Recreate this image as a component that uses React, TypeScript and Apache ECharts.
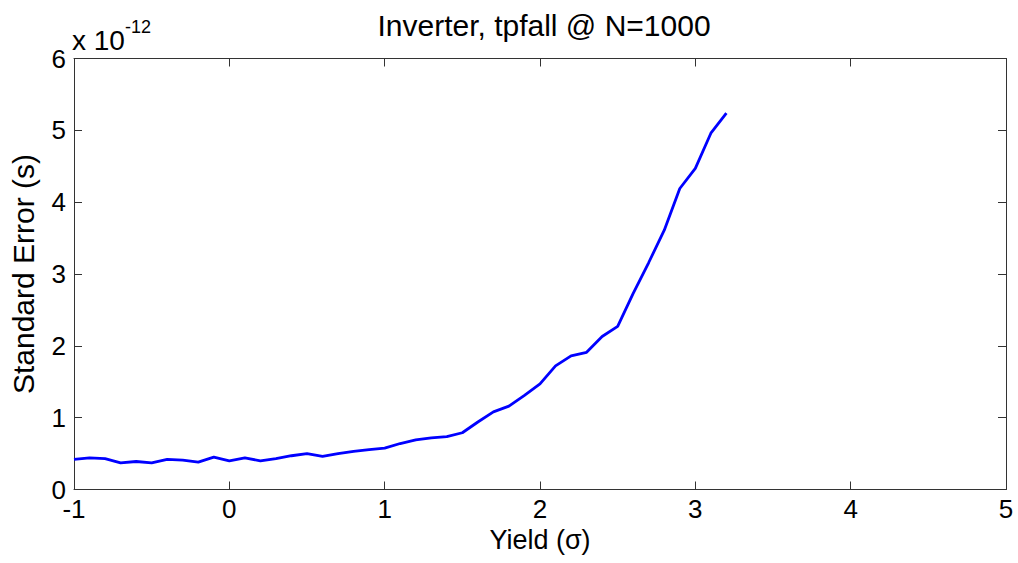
import React, { useEffect, useRef } from "react";
import * as echarts from "echarts";

// Yield in sigma units
const yieldSigma: number[] = [
  -1.0, -0.9, -0.8, -0.7, -0.6, -0.5, -0.4, -0.3, -0.2, -0.1,
  0.0, 0.1, 0.2, 0.3, 0.4, 0.5, 0.6, 0.7, 0.8, 0.9,
  1.0, 1.1, 1.2, 1.3, 1.4, 1.5, 1.6, 1.7, 1.8, 1.9,
  2.0, 2.1, 2.2, 2.3, 2.4, 2.5, 2.6, 2.7, 2.8, 2.9,
  3.0, 3.1, 3.2,
];

// Standard error of tpfall, in units of 1e-12 s
const stdError: number[] = [
  0.42, 0.44, 0.43, 0.37, 0.39, 0.37, 0.42, 0.41, 0.38, 0.45,
  0.40, 0.44, 0.40, 0.43, 0.47, 0.50, 0.46, 0.50, 0.53, 0.555,
  0.575, 0.64, 0.69, 0.72, 0.735, 0.79, 0.94, 1.08, 1.16, 1.31,
  1.47, 1.72, 1.86, 1.91, 2.13, 2.27, 2.73, 3.16, 3.61, 4.19,
  4.47, 4.96, 5.24,
];

const xTicks = { min: -1, max: 5, interval: 1 };
const yTicks = { min: 0, max: 6, interval: 1 };

const FONT = "'Liberation Sans', Arial, Helvetica, sans-serif";
const AXIS_COLOR = "#333333";

export default function App() {
  const ref = useRef<HTMLDivElement>(null);

  useEffect(() => {
    if (!ref.current) return;
    const chart = echarts.init(ref.current, undefined, { renderer: "svg" });

    const frameAxis = {
      axisLine: { show: true, onZero: false, lineStyle: { color: AXIS_COLOR, width: 1 } },
      axisTick: { show: true, inside: true, length: 8, lineStyle: { color: AXIS_COLOR } },
      splitLine: { show: false },
    };

    chart.setOption({
      animation: false,
      backgroundColor: "#ffffff",
      textStyle: { fontFamily: FONT },
      title: {
        text: "Inverter, tpfall @ N=1000",
        left: 539,
        textAlign: "center",
        top: 5,
        textStyle: { fontFamily: FONT, fontSize: 30, fontWeight: "normal", color: "#000" },
      },
      grid: { left: 72, right: 12, top: 58.5, bottom: 73.5, containLabel: false },
      xAxis: [
        {
          type: "value",
          position: "bottom",
          ...xTicks,
          ...frameAxis,
          name: "Yield (σ)",
          nameLocation: "middle",
          nameGap: 32,
          nameTextStyle: { fontFamily: FONT, fontSize: 27, color: "#000" },
          axisLabel: { show: true, margin: 9, lineHeight: 20, fontFamily: FONT, fontSize: 26, color: "#000" },
        },
        {
          type: "value",
          position: "top",
          ...xTicks,
          ...frameAxis,
          axisLabel: { show: false },
        },
      ],
      yAxis: [
        {
          type: "value",
          position: "left",
          ...yTicks,
          ...frameAxis,
          name: "Standard Error (s)",
          nameLocation: "middle",
          nameGap: 36,
          nameTextStyle: { fontFamily: FONT, fontSize: 30, color: "#000" },
          axisLabel: { show: true, margin: 8, lineHeight: 20, fontFamily: FONT, fontSize: 26, color: "#000" },
        },
        {
          type: "value",
          position: "right",
          ...yTicks,
          ...frameAxis,
          axisLabel: { show: false },
        },
      ],
      graphic: [
        {
          type: "text",
          left: 72,
          top: 26,
          style: { text: "x 10", fontFamily: FONT, fontSize: 28, fill: "#000" },
        },
        {
          type: "text",
          left: 125,
          top: 18,
          style: { text: "-12", fontFamily: FONT, fontSize: 18, fill: "#000" },
        },
      ],
      series: [
        {
          type: "line",
          xAxisIndex: 0,
          yAxisIndex: 0,
          data: yieldSigma.map((x, i) => [x, stdError[i]]),
          showSymbol: false,
          symbol: "none",
          smooth: false,
          lineStyle: { color: "#0000ff", width: 2.8 },
        },
      ],
    });

    return () => chart.dispose();
  }, []);

  return (
    <div
      ref={ref}
      style={{ position: "fixed", left: 0, top: 0, width: 1018, height: 563, background: "#fff" }}
    />
  );
}
